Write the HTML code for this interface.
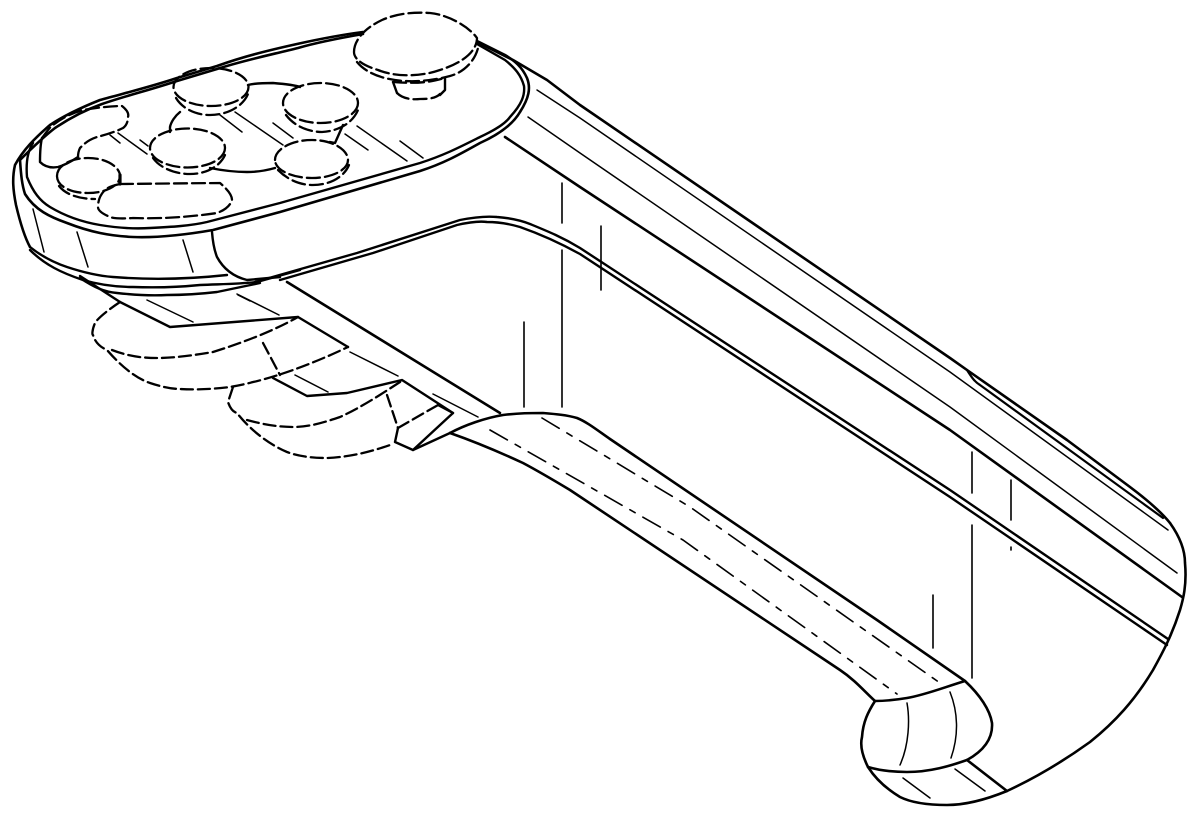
<!DOCTYPE html>
<html><head><meta charset="utf-8"><style>html,body{margin:0;padding:0;background:#fff}svg{display:block}</style></head><body>
<svg width="1200" height="820" viewBox="0 0 1200 820" xmlns="http://www.w3.org/2000/svg" fill="none" stroke="#000" stroke-width="2.4" stroke-linecap="round" stroke-linejoin="round">
<rect width="1200" height="820" fill="#fff" stroke="none"/>
<!-- top plate -->
<path d="M363 32C340 35 315 40 297 44C270 50 245 56 217 66L177 78C150 87 125 93 100 100C80 108 65 115 50 125C35 138 23 150 15 165C12 178 13 190 16 205C20 222 24 236 30 247" stroke-width="2.6"/>
<path d="M363 34C340 38 315 43 298 48C270 55 245 60 217 69L177 81C150 90 125 96 102 104C85 110 70 118 55 128C42 138 30 150 20 160C21 175 22 185 25 194C35 210 50 217 67 223C90 232 110 236 133 237C160 238 190 234 213 230L280 212L420 171C445 163 462 153 480 143C500 134 513 124 520 112C529 98 531 88 527 78C522 67 515 61 505 55L477 41" stroke-width="2.6"/>
<path d="M33 143C27 152 26 165 27 177C33 192 40 201 50 207C65 216 82 222 100 225C118 228 135 229 150 228C170 227 190 226 207 222L280 203L420 163C445 155 462 146 480 137C495 130 505 124 510 117C522 104 525 95 524 86C521 75 515 68 505 60L477 44" stroke-width="2.4"/>
<!-- plate side -->
<path d="M30 247C40 255 52 262 67 267C85 273 100 276 113 277C150 280 190 279 227 275" stroke-width="2.4"/>
<path d="M30 250C45 265 62 273 83 280C100 285 115 287 133 287C160 288 180 287 200 285C225 284 240 284 257 282L300 270" stroke-width="2.4"/>
<path d="M80 278C95 288 105 292 117 293C135 295 150 296 167 295C185 295 200 294 217 292L260 283" stroke-width="2.4"/>
<path d="M33 209L44 252M77 232L88 267M183 240L193 272" stroke-width="1.5"/>
<path d="M212 232C213 245 215 252 217 257C224 270 235 277 247 280L280 277" stroke-width="2.4"/>
<!-- body edges -->
<path d="M255 282L357 253L460 220C475 217 487 216 497 217C510 218 520 220 530 224C547 231 562 237 580 248L950 490L1168 639" stroke-width="2.4"/>
<path d="M280 280L373 253L457 225C470 222 480 221 487 222C500 222 510 224 520 227C540 234 560 243 580 254L950 497L1167 645" stroke-width="2.4"/>
<path d="M477 42L513 60L547 80L580 105L950 358L967 370L1067 440L1130 487C1150 502 1162 513 1170 523" stroke-width="2.6"/>
<path d="M967 370C972 378 975 382 980 385L1163 518" stroke-width="2.2"/>
<path d="M537 90L580 118L950 372L1168 530" stroke-width="1.5"/>
<path d="M528 117L580 153L950 407L1177 573" stroke-width="1.5"/>
<path d="M505 137L580 187L950 430L1182 597" stroke-width="2.6"/>
<path d="M1170 523C1180 537 1185 550 1185 563C1187 585 1183 600 1180 610C1172 635 1163 652 1153 670C1135 700 1115 722 1090 742C1065 760 1035 778 1007 791C985 800 965 805 947 805C925 805 910 802 900 797C885 788 875 778 868 767" stroke-width="2.6"/>
<!-- verticals -->
<path d="M562 183V223M562 250V407M601 226V290M524 322V407M972 452V493M972 525V678M1011 480V520M1011 547V550M933 595V648" stroke-width="1.6"/>
<!-- underside -->
<path d="M287 282L500 413" stroke-width="2.6"/>
<path d="M300 290L320 302" stroke-width="1.5"/>
<path d="M80 276L120 302L170 327L298 317L348 347" stroke-width="2.4"/>
<path d="M273 378L307 396L347 393L402 380L453 413L413 450L395 442L398 428" stroke-width="2.4"/>
<path d="M438 405L453 413M413 450L450 433" stroke-width="2.4"/>
<path d="M147 300L193 322M237 294L279 315M350 352L398 376M295 375L328 392M433 394L478 417M238 295L250 301" stroke-width="1.5"/>
<!-- handle -->
<path d="M450 433C465 425 485 418 503 415C520 413 530 413 543 413C555 414 567 415 577 418C587 422 597 430 610 439L877 620L965 681" stroke-width="2.6"/>
<path d="M450 433C470 440 495 450 523 463C540 472 555 481 570 490L840 670C855 680 865 692 875 701" stroke-width="2.6"/>
<path d="M490 430L683 540L897 694" stroke-width="1.6" stroke-dasharray="20 9 6 9"/>
<path d="M542 418L690 507L940 683" stroke-width="1.6" stroke-dasharray="20 9 6 9"/>
<!-- knob -->
<path d="M875 701C885 701 895 700 907 698C925 695 945 687 965 681C980 695 990 710 992 723C993 738 985 750 967 760C950 766 930 772 907 772C890 772 878 770 868 767C862 755 860 745 862 737C863 722 868 712 875 701Z" stroke-width="2.6"/>
<path d="M907 703C910 720 909 745 900 765M950 692C958 712 959 735 951 758M955 769L985 791M903 778L930 798" stroke-width="1.5"/>
<path d="M967 760L1007 791" stroke-width="2.6"/>
<!-- dashed fingers -->
<g stroke-dasharray="12 5" stroke-width="2.3">
<path d="M120 302C108 310 98 318 95 323C92 330 92 335 93 335C95 342 100 347 107 350C120 365 135 378 150 383C165 388 175 389 180 389C195 390 215 389 230 387C270 380 310 365 348 347"/>
<path d="M112 350C130 357 145 358 157 358C175 358 195 355 213 352C245 342 275 330 298 317"/>
<path d="M263 343L280 375"/>
<path d="M233 387L228 402C230 408 233 412 237 413C250 430 270 445 287 452C300 457 315 458 327 458C350 457 370 452 390 445"/>
<path d="M247 420C265 425 280 427 293 427C310 427 325 422 340 417C360 408 380 395 400 382"/>
<path d="M387 395L398 428"/>
<path d="M398 428L438 405"/>
</g>
<!-- buttons -->
<g stroke-dasharray="13 5" stroke-width="2.3">
<ellipse cx="211" cy="87" rx="37.5" ry="19"/>
<path d="M176 98C182 108 195 115 210 115C228 115 243 106 248 94"/>
<ellipse cx="320.500" cy="103" rx="37.500" ry="20" />
<path d="M286 115C295 127 310 132 322 132C340 131 353 122 358 110"/>
<ellipse cx="187.500" cy="148" rx="37.500" ry="19.500" />
<path d="M153 158C160 168 175 174 190 174C207 174 220 166 225 155"/>
<path d="M275 160C275 150 290 140 312 140C333 140 348 150 348 160C348 170 332 178 312 178C292 178 275 170 275 160Z"/>
<path d="M278 170C288 180 300 185 313 185C330 185 344 177 349 165"/>
<path d="M57 176C57 166 70 158 88 158C108 158 120 168 120 176C120 186 105 193 88 193C70 193 57 186 57 176Z"/>
<path d="M59 186C66 195 80 199 95 199"/>
<path d="M354 52C354 40 365 28 382 20C398 13 415 12 430 13C450 15 470 28 477 38C477 50 465 62 440 70C420 77 395 77 378 70C365 66 354 60 354 52Z"/>
<path d="M357 62C365 72 380 78 395 80C415 83 435 80 450 76C465 72 475 60 478 48"/>
<path d="M393 82C420 84 430 82 445 78"/>
<path d="M397 93C402 98 410 100 420 99C430 99 436 98 440 94"/>
<path d="M120 184L220 183C228 190 232 195 232 200C230 206 225 210 217 213C190 217 160 219 133 218C120 219 112 218 110 217C103 214 98 211 98 207C98 198 102 193 105 190C110 186 115 185 120 184Z"/>
<path d="M42 138C48 130 50 127 53 125C62 118 72 113 83 110C95 108 110 106 122 106C127 110 129 114 128 117C128 122 126 126 123 128C115 132 105 135 97 137C88 140 84 144 80 148C78 152 78 155 78 157"/>
</g>
<!-- solid plate details -->
<path d="M42 138C40 146 40 155 40 162C45 167 52 168 58 167C65 165 72 161 78 157" stroke-width="2.4"/>
<path d="M180 112C175 116 171 122 170 127L170 132M248 85C255 83 265 83 273 83C285 84 295 85 300 87M210 168C225 171 235 172 247 172C258 172 268 170 275 168M343 125L335 143L330 142M445 78V90L440 95M393 82L397 93" stroke-width="2.4"/>
<path d="M120 175V184" stroke-width="3.2"/>
<path d="M220 115L242 132M235 112L283 145M273 123L293 138M110 135L120 143M118 133L147 154M140 140L148 146M357 126L407 161M345 134L368 150M400 141L423 158" stroke-width="1.5"/>
</svg>
</body></html>
